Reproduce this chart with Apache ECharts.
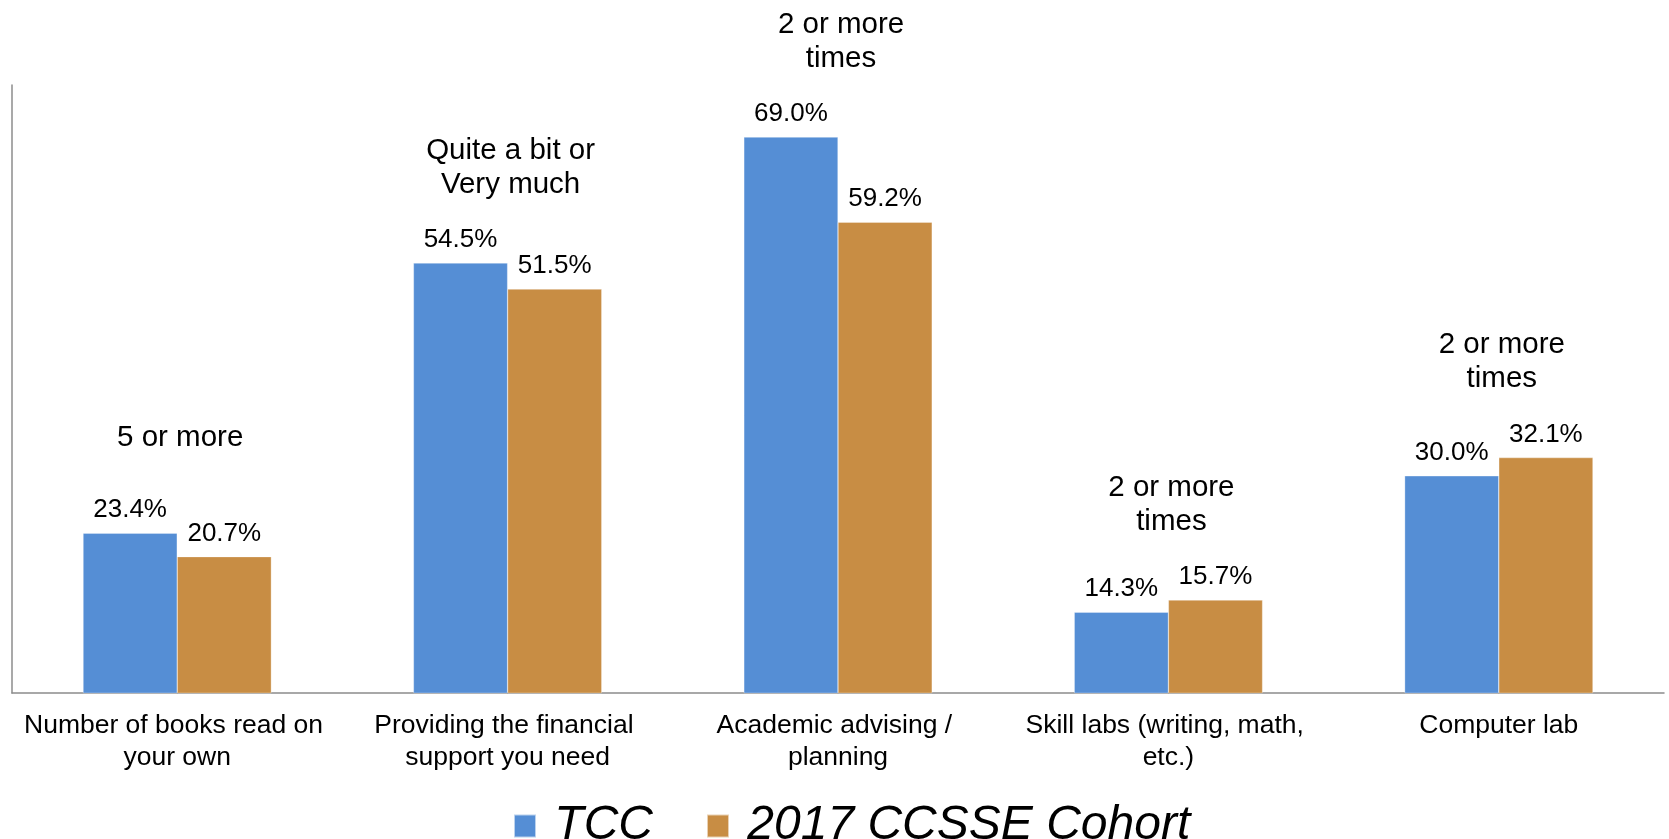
<!DOCTYPE html>
<html><head><meta charset="utf-8">
<script src="https://cdn.jsdelivr.net/npm/echarts@6/dist/echarts.min.js"></script>
<style>html,body{margin:0;padding:0;background:#fff}#c{width:1669px;height:839px}</style>
</head><body><div id="c"></div>
<script>
const categories = ['Number of books read on your own','Providing the financial support you need','Academic advising / planning','Skill labs (writing, math, etc.)','Computer lab'];
const tccValues = [23.4, 54.5, 69.0, 14.3, 30.0];
const cohortValues = [20.7, 51.5, 59.2, 15.7, 32.1];
const notes = ['5 or more','Quite a bit or\nVery much','2 or more\ntimes','2 or more\ntimes','2 or more\ntimes'];
const seriesNames = ['TCC','2017 CCSSE Cohort'];
const yMin = 5, yMax = 75;

const font = '"Liberation Sans", Arial, sans-serif';
const chart = echarts.init(document.getElementById('c'), null, {renderer:'canvas'});
const noteData = categories.map((c,i)=>[i, Math.max(tccValues[i], cohortValues[i])]);
const valueLabel = {show:true,position:'top',distance:10,formatter:p=>Number(p.value).toFixed(1)+'%',fontSize:26,color:'#000',fontFamily:font};
chart.setOption({
  animation:false,
  grid:{left:12,right:5,top:85,bottom:146},
  xAxis:{type:'category',data:categories,
    axisLine:{lineStyle:{color:'#8c8c8c',width:1.5}},
    axisTick:{length:8,lineStyle:{color:'#8c8c8c',width:1.5}},
    axisLabel:{color:'#000',fontSize:26.5,fontFamily:font,lineHeight:32,margin:17,width:314,overflow:'break',interval:0}},
  yAxis:{type:'value',min:yMin,max:yMax,
    axisLine:{show:true,lineStyle:{color:'#8c8c8c',width:1.5}},
    axisTick:{show:false},axisLabel:{show:false},splitLine:{show:false}},
  legend:{data:seriesNames,left:508,top:796,icon:'rect',itemWidth:22,itemHeight:23,itemGap:53,
    formatter:n=>' '+n,
    textStyle:{fontSize:48,fontStyle:'italic',fontFamily:font,color:'#000',lineHeight:50}},
  series:[
    {name:seriesNames[0],type:'bar',data:tccValues,barGap:'0%',barCategoryGap:'43%',
      itemStyle:{color:'#558ED5',borderColor:'rgba(255,255,255,0.6)',borderWidth:0.5},label:valueLabel},
    {name:seriesNames[1],type:'bar',data:cohortValues,barGap:'0%',barCategoryGap:'43%',
      itemStyle:{color:'#C88D44',borderColor:'rgba(255,255,255,0.6)',borderWidth:0.5},label:valueLabel},
    {type:'custom',data:noteData,clip:false,silent:true,
      renderItem:(params,api)=>{
        const p = api.coord([api.value(0), api.value(1)]);
        return {type:'text',x:p[0]+3,y:p[1]-95.5,
          style:{text:notes[params.dataIndex],fill:'#000',fontSize:29.5,fontFamily:font,lineHeight:34,align:'center',verticalAlign:'middle'}};
      }}
  ]
});
</script></body></html>
